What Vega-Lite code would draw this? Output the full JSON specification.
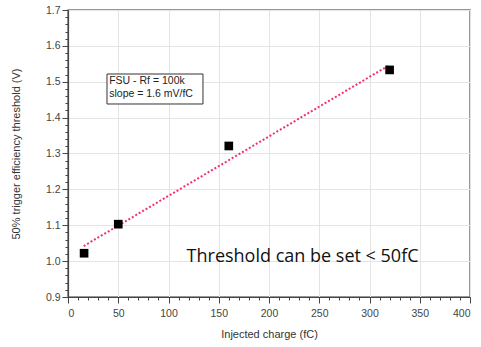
{
  "$schema": "https://vega.github.io/schema/vega-lite/v6.json",
  "width": 402,
  "height": 287,
  "autosize": {"type": "none"},
  "padding": {"left": 68, "top": 10, "right": 11, "bottom": 50},
  "background": "white",
  "config": {
    "font": "Liberation Sans",
    "view": {"stroke": "#777", "strokeWidth": 1.5},
    "axis": {"labelFont": "Liberation Sans", "titleFont": "Liberation Sans", "labelColor": "#444", "titleColor": "#333", "labelFontSize": 10.5, "titleFontSize": 11, "titleFontWeight": "normal", "domainColor": "#444", "tickColor": "#444"}
  },
  "datasets": {
    "pts": [
      {"q": 16, "v": 1.022},
      {"q": 50, "v": 1.103},
      {"q": 160, "v": 1.321},
      {"q": 320, "v": 1.533}
    ],
    "fit": [
      {"q": 15.6, "v": 1.042},
      {"q": 318.4, "v": 1.544}
    ],
    "box": [{"x0": 38.8, "x1": 134.3, "y0": 1.438, "y1": 1.5216}],
    "lbl": [
      {"q": 41, "v": 1.503, "t": "FSU - Rf = 100k"},
      {"q": 41, "v": 1.467, "t": "slope = 1.6 mV/fC"}
    ],
    "ann": [{"q": 118, "v": 1.012, "t": "Threshold can be set < 50fC"}]
  },
  "encoding": {
    "x": {"field": "q", "type": "quantitative", "scale": {"domain": [0, 400], "nice": false},
      "axis": {"values": [0,10,20,30,40,50,60,70,80,90,100,110,120,130,140,150,160,170,180,190,200,210,220,230,240,250,260,270,280,290,300,310,320,330,340,350,360,370,380,390,400],
        "labelExpr": "datum.value % 50 === 0 ? datum.label : ''",
        "tickSize": {"condition": {"test": "datum.value % 50 === 0", "value": 6}, "value": 3},
        "gridColor": {"condition": {"test": "datum.value % 50 === 0", "value": "#e4e4e4"}, "value": "rgba(255,255,255,0)"},
        "labelOverlap": false,
        "grid": true, "title": "Injected charge (fC)", "titlePadding": 10, "labelPadding": 5, "domainWidth": 1.2}},
    "y": {"field": "v", "type": "quantitative", "scale": {"domain": [0.9, 1.7], "nice": false, "zero": false},
      "axis": {"values": [0.9,0.92,0.94,0.96,0.98,1.0,1.02,1.04,1.06,1.08,1.1,1.12,1.14,1.16,1.18,1.2,1.22,1.24,1.26,1.28,1.3,1.32,1.34,1.36,1.38,1.4,1.42,1.44,1.46,1.48,1.5,1.52,1.54,1.56,1.58,1.6,1.62,1.64,1.66,1.68,1.7],
        "labelExpr": "abs(datum.value*10 - round(datum.value*10)) < 0.001 ? format(datum.value, '.1f') : ''",
        "tickSize": {"condition": {"test": "abs(datum.value*10 - round(datum.value*10)) < 0.001", "value": 6}, "value": 3},
        "gridColor": {"condition": {"test": "abs(datum.value*10 - round(datum.value*10)) < 0.001", "value": "#e4e4e4"}, "value": "rgba(255,255,255,0)"},
        "labelOverlap": false,
        "grid": true, "title": "50% trigger efficiency threshold (V)", "titlePadding": 24, "domainWidth": 1.2}}
  },
  "layer": [
    {
      "data": {"name": "fit"},
      "mark": {"type": "line", "color": "#f2306e", "strokeWidth": 2, "strokeDash": [2, 2]}
    },
    {
      "data": {"name": "pts"},
      "mark": {"type": "square", "color": "black", "filled": true, "opacity": 1, "size": 75}
    },
    {
      "data": {"name": "box"},
      "mark": {"type": "rect", "fill": "white", "stroke": "#333", "strokeWidth": 1},
      "encoding": {
        "x": {"field": "x0", "type": "quantitative"},
        "x2": {"field": "x1"},
        "y": {"field": "y0", "type": "quantitative"},
        "y2": {"field": "y1"}
      }
    },
    {
      "data": {"name": "lbl"},
      "mark": {"type": "text", "align": "left", "baseline": "middle", "fontSize": 10.5, "color": "#222", "font": "Liberation Sans"},
      "encoding": {"text": {"field": "t"}}
    },
    {
      "data": {"name": "ann"},
      "mark": {"type": "text", "align": "left", "baseline": "middle", "fontSize": 18, "color": "#111", "font": "Open Sans"},
      "encoding": {"text": {"field": "t"}}
    }
  ]
}
